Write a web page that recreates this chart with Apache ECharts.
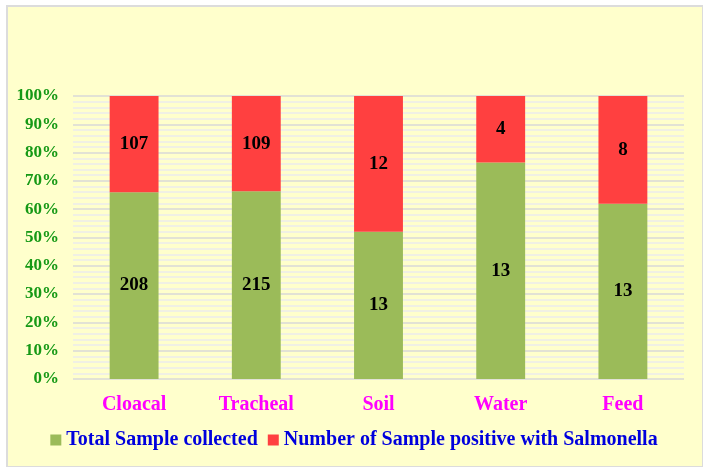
<!DOCTYPE html>
<html>
<head>
<meta charset="utf-8">
<script src="https://cdn.jsdelivr.net/npm/echarts@6/dist/echarts.min.js"></script>
<style>
  body { margin: 0; background: #fff; }
  #frame {
    position: absolute; left: 6px; top: 5px; width: 694px; height: 459px;
    border: 2px solid #dcdcdc; border-right-width: 1px; border-bottom-width: 1px;
    background: #ffffcc;
  }
  #chart { width: 708px; height: 472px; position: absolute; left: -8px; top: -7px; }
</style>
</head>
<body>
<div id="frame"><div id="chart"></div></div>
<script>
// Sample sources and counts
const categories = ["Cloacal", "Tracheal", "Soil", "Water", "Feed"];
const totalCollected = [208, 215, 13, 13, 13];
const positiveSalmonella = [107, 109, 12, 4, 8];
const yTickLabels = ["0%", "10%", "20%", "30%", "40%", "50%", "60%", "70%", "80%", "90%", "100%"];

// 100% stacked: share of each segment in its column
function share(arr, i) {
  return (arr[i] / (totalCollected[i] + positiveSalmonella[i])) * 100;
}
const greenData = categories.map((c, i) => ({ value: share(totalCollected, i), raw: totalCollected[i] }));
const redData = categories.map((c, i) => ({ value: share(positiveSalmonella, i), raw: positiveSalmonella[i] }));

const font = "'Liberation Serif', 'Times New Roman', serif";
const labelStyle = {
  show: true,
  position: "inside",
  color: "#000",
  fontFamily: font,
  fontWeight: "bold",
  fontSize: 19,
  formatter: (p) => p.data.raw,
};

let myChart = echarts.init(document.getElementById("chart"));
let option = {
  backgroundColor: "transparent",
  animation: false,
  grid: { left: 73, right: 24, top: 96, bottom: 93 },
  legend: {
    bottom: 17,
    left: "center",
    itemWidth: 11,
    itemHeight: 11,
    itemGap: 10,
    icon: "rect",
    textStyle: { color: "#0000dd", fontFamily: font, fontWeight: "bold", fontSize: 20 },
    data: ["Total Sample collected", "Number of Sample positive with Salmonella"],
  },
  xAxis: {
    type: "category",
    data: categories,
    axisLine: { show: false },
    axisTick: { show: false },
    axisLabel: { color: "#ff00ff", fontFamily: font, fontWeight: "bold", fontSize: 20, margin: 16 },
  },
  yAxis: {
    type: "value",
    min: 0,
    max: 100,
    interval: 10,
    axisLine: { show: false },
    axisTick: { show: false },
    axisLabel: {
      color: "#169916",
      fontFamily: font,
      fontWeight: "bold",
      fontSize: 17,
      margin: 14,
      formatter: (v) => yTickLabels[Math.round(v / 10)],
    },
    splitLine: { lineStyle: { color: "#d9d9d9", width: 1.5 } },
    minorTick: { show: false, splitNumber: 5 },
    minorSplitLine: { show: true, lineStyle: { color: "#ebebeb", width: 1.5 } },
  },
  series: [
    {
      name: "Total Sample collected",
      type: "bar",
      stack: "all",
      barWidth: "40%",
      itemStyle: { color: "#9bbb59" },
      label: labelStyle,
      data: greenData,
    },
    {
      name: "Number of Sample positive with Salmonella",
      type: "bar",
      stack: "all",
      barWidth: "40%",
      itemStyle: { color: "#ff4040" },
      label: labelStyle,
      data: redData,
    },
  ],
};
myChart.setOption(option);
</script>
</body>
</html>
